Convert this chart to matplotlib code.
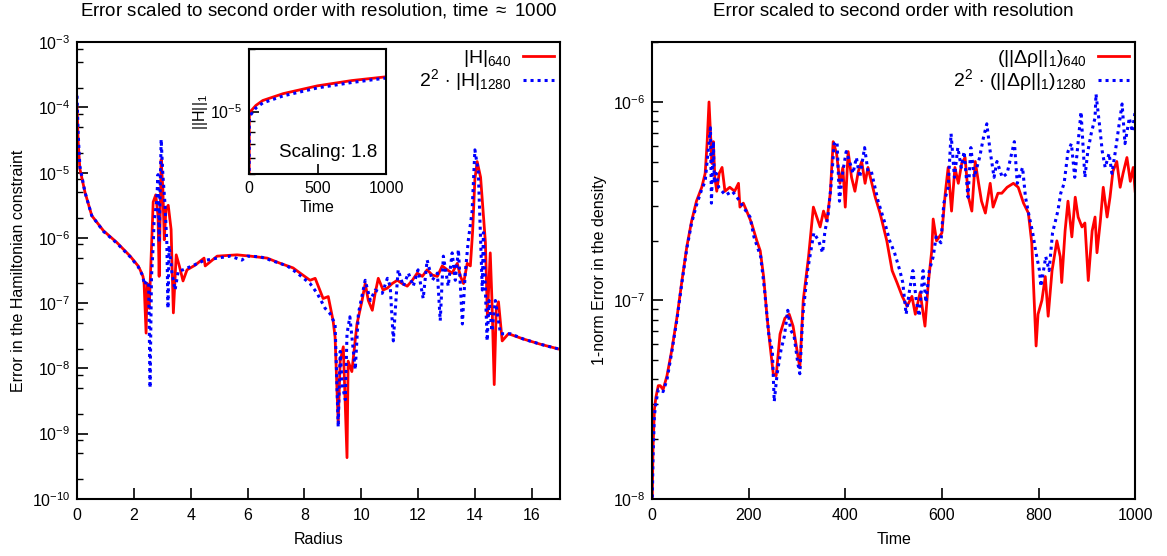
import numpy as np
import matplotlib
matplotlib.use("Agg")
import matplotlib.pyplot as plt
from matplotlib.ticker import LogLocator, NullFormatter, FixedLocator

plt.rcParams['font.family'] = ['Liberation Sans', 'DejaVu Sans']
plt.rcParams['mathtext.fontset'] = 'custom'
plt.rcParams['mathtext.rm'] = 'Liberation Sans'
plt.rcParams['mathtext.it'] = 'Liberation Sans'
plt.rcParams['mathtext.bf'] = 'Liberation Sans:bold'

# ---- left panel: Hamiltonian constraint vs radius (log10 of error) ----
r_640 = [0.0, 0.04, 0.1, 0.28, 0.52, 0.93, 1.4, 1.87, 2.15, 2.22, 2.32, 2.36, 2.43, 2.47, 2.54,
         2.64, 2.68, 2.77, 2.85, 2.89, 2.96, 3.02, 3.07, 3.13, 3.21, 3.31, 3.39, 3.49, 3.6,
         3.73, 3.87, 4.15, 4.47, 4.51, 4.93, 5.63, 6.1, 6.69, 7.15, 7.6, 7.85, 8.2, 8.38,
         8.66, 8.84, 9.01, 9.08, 9.19, 9.26, 9.37, 9.5, 9.54, 9.67, 9.85, 10.03, 10.14,
         10.25, 10.39, 10.49, 10.6, 10.77, 10.92, 11.09, 11.27, 11.44, 11.62, 11.8, 11.97,
         12.15, 12.32, 12.5, 12.68, 12.85, 13.03, 13.2, 13.38, 13.49, 13.6, 13.73, 13.84,
         13.92, 14.0, 14.08, 14.2, 14.37, 14.44, 14.54, 14.6, 14.68, 14.75, 14.83, 14.96,
         15.18, 15.7, 16.3, 17.0]
H_640 = [-4.0, -4.52, -4.94, -5.3, -5.66, -5.89, -6.07, -6.28, -6.43, -6.49, -6.59, -6.70,
         -7.46, -6.70, -7.08, -5.92, -5.45, -5.34, -5.66, -6.59, -4.80, -5.25, -6.03, -5.56,
         -5.50, -5.87, -7.15, -6.26, -6.43, -6.66, -6.49, -6.42, -6.31, -6.43, -6.28, -6.26,
         -6.28, -6.31, -6.39, -6.46, -6.54, -6.65, -6.62, -6.93, -6.90, -7.27, -7.52, -8.84,
         -7.89, -7.67, -9.37, -7.89, -8.05, -7.32, -6.96, -6.70, -6.96, -7.11, -6.85, -6.62,
         -6.80, -6.77, -6.70, -6.65, -6.70, -6.74, -6.65, -6.54, -6.59, -6.49, -6.57, -6.59,
         -6.43, -6.49, -6.54, -6.39, -6.59, -6.70, -6.39, -6.43, -5.90, -5.10, -4.83, -5.07,
         -6.07, -7.21, -6.23, -6.96, -8.25, -7.11, -6.98, -7.58, -7.47, -7.55, -7.63, -7.71]

r_1280 = [0.0, 0.04, 0.1, 0.28, 0.52, 0.93, 1.4, 1.87, 2.15, 2.3, 2.38, 2.45, 2.52, 2.57,
          2.62, 2.68, 2.71, 2.8, 2.85, 2.89, 2.96, 3.02, 3.09, 3.16, 3.2, 3.24, 3.34, 3.45,
          3.56, 3.73, 4.1, 4.45, 4.93, 5.39, 5.8, 6.0, 6.45, 6.8, 7.4, 7.75, 8.2, 8.45, 8.73,
          8.9, 9.08, 9.19, 9.26, 9.33, 9.44, 9.5, 9.6, 9.79, 9.9, 10.14, 10.32, 10.49, 10.74,
          10.92, 11.02, 11.13, 11.23, 11.3, 11.48, 11.66, 11.83, 12.0, 12.18, 12.32, 12.5,
          12.68, 12.78, 12.89, 13.06, 13.2, 13.31, 13.42, 13.56, 13.66, 13.77, 13.9, 14.0,
          14.12, 14.26, 14.3, 14.43, 14.5, 14.6, 14.72, 14.9, 15.0, 15.25, 15.7, 16.3, 17.0]
H_1280 = [-3.82, -4.4, -4.9, -5.3, -5.66, -5.90, -6.08, -6.29, -6.44, -6.57, -6.72, -6.66,
          -6.70, -8.30, -6.60, -6.12, -5.76, -5.45, -5.03, -6.07, -4.49, -5.03, -5.45, -6.07,
          -7.08, -6.12, -6.54, -6.80, -6.51, -6.49, -6.42, -6.35, -6.31, -6.28, -6.34, -6.28,
          -6.29, -6.34, -6.43, -6.54, -6.70, -6.85, -7.08, -7.16, -7.32, -8.90, -7.74, -8.25,
          -8.48, -7.47, -7.21, -8.02, -7.16, -6.65, -6.96, -6.80, -6.85, -6.62, -6.74, -7.58,
          -6.90, -6.49, -6.74, -6.54, -6.74, -6.49, -6.93, -6.34, -6.65, -6.54, -7.27, -6.28,
          -6.74, -6.23, -6.65, -6.18, -7.32, -6.54, -6.03, -5.60, -4.65, -4.99, -6.80, -5.92,
          -7.58, -6.96, -7.43, -6.96, -7.47, -7.47, -7.47, -7.55, -7.63, -7.71]

# ---- inset: ||H||_1 vs time ----
t_inset = [0, 2, 10, 50, 100, 250, 500, 750, 1000]
Hnorm_640 = [3e-6, 9.5e-6, 1.0e-5, 1.07e-5, 1.13e-5, 1.22e-5, 1.33e-5, 1.41e-5, 1.47e-5]
Hnorm_1280 = [3e-6, 9.2e-6, 9.6e-6, 1.04e-5, 1.10e-5, 1.19e-5, 1.30e-5, 1.38e-5, 1.45e-5]

# ---- right panel: 1-norm density error vs time (log10) ----
t_640 = [0, 2, 5, 8, 13, 17, 23, 31, 41, 52, 62, 72, 82, 92, 103, 110, 114, 118, 121, 124,
         127, 130, 134, 139, 145, 151, 161, 171, 179, 182, 189, 196, 206, 217, 224, 231, 238,
         244, 251, 257, 265, 275, 284, 292, 300, 306, 313, 324, 334, 341, 348, 355, 362, 369,
         375, 382, 389, 395, 400, 406, 413, 420, 427, 434, 441, 447, 455, 462, 472, 486, 497,
         507, 518, 528, 538, 545, 555, 565, 572, 579, 582, 589, 600, 607, 613, 620, 627, 634,
         641, 648, 655, 662, 669, 676, 682, 690, 700, 706, 716, 724, 735, 748, 758, 769, 779,
         786, 791, 795, 799, 807, 814, 820, 828, 838, 845, 848, 855, 861, 869, 876, 882, 890,
         896, 903, 911, 917, 921, 928, 934, 942, 948, 954, 962, 969, 975, 983, 990, 996, 1000]
rho_640 = [-8.1, -7.75, -7.55, -7.49, -7.43, -7.43, -7.45, -7.38, -7.25, -7.08, -6.90, -6.73,
           -6.60, -6.50, -6.43, -6.36, -6.21, -6.00, -6.15, -6.31, -6.20, -6.38, -6.45, -6.36,
           -6.33, -6.45, -6.43, -6.45, -6.41, -6.53, -6.51, -6.55, -6.61, -6.70, -6.75, -6.88,
           -7.08, -7.22, -7.37, -7.38, -7.17, -7.09, -7.07, -7.13, -7.25, -7.34, -7.00, -6.78,
           -6.53, -6.58, -6.63, -6.55, -6.60, -6.46, -6.20, -6.26, -6.41, -6.33, -6.53, -6.25,
           -6.38, -6.45, -6.35, -6.30, -6.41, -6.33, -6.41, -6.48, -6.56, -6.70, -6.85, -6.91,
           -6.98, -7.03, -6.98, -7.07, -6.96, -7.13, -6.91, -6.75, -6.59, -6.70, -6.66, -6.46,
           -6.33, -6.55, -6.33, -6.41, -6.31, -6.28, -6.48, -6.55, -6.30, -6.41, -6.50, -6.56,
           -6.41, -6.53, -6.46, -6.46, -6.43, -6.41, -6.43, -6.51, -6.56, -6.71, -7.00, -7.23,
           -7.07, -7.00, -6.88, -7.08, -6.85, -6.70, -6.78, -6.91, -6.65, -6.50, -6.68, -6.48,
           -6.58, -6.63, -6.61, -6.90, -6.65, -6.58, -6.76, -6.60, -6.43, -6.58, -6.48, -6.35,
           -6.30, -6.43, -6.36, -6.28, -6.40, -6.33, -6.45]

t_1280 = [0, 2, 5, 8, 13, 17, 23, 31, 41, 52, 62, 72, 82, 92, 103, 110, 114, 118, 121, 123,
          127, 129, 133, 138, 152, 166, 176, 189, 203, 211, 225, 233, 242, 249, 253, 259, 267,
          274, 281, 287, 294, 302, 306, 312, 322, 335, 345, 353, 358, 364, 371, 377, 383, 388,
          395, 402, 409, 416, 423, 430, 440, 447, 454, 468, 482, 492, 502, 513, 519, 526, 533,
          540, 547, 553, 561, 567, 574, 582, 588, 598, 604, 613, 619, 626, 633, 640, 646, 654,
          660, 667, 678, 686, 693, 700, 708, 714, 725, 735, 750, 756, 767, 773, 781, 788, 794,
          802, 805, 815, 822, 829, 840, 846, 853, 861, 868, 875, 881, 888, 896, 902, 909, 917,
          919, 926, 932, 938, 946, 952, 959, 967, 973, 979, 988, 994, 1000]
rho_1280 = [-8.1, -7.8, -7.58, -7.52, -7.45, -7.45, -7.46, -7.40, -7.26, -7.09, -6.91, -6.74,
            -6.61, -6.52, -6.44, -6.40, -6.30, -6.20, -6.13, -6.51, -6.20, -6.41, -6.36, -6.43,
            -6.47, -6.45, -6.48, -6.53, -6.58, -6.68, -6.78, -6.95, -7.18, -7.25, -7.51, -7.37,
            -7.25, -7.18, -7.05, -7.15, -7.18, -7.32, -7.37, -7.08, -6.85, -6.66, -6.70, -6.76,
            -6.65, -6.58, -6.41, -6.21, -6.20, -6.50, -6.35, -6.25, -6.30, -6.36, -6.28, -6.38,
            -6.23, -6.35, -6.35, -6.50, -6.61, -6.70, -6.76, -6.85, -6.91, -7.07, -6.95, -6.85,
            -7.00, -7.08, -6.85, -7.01, -6.85, -6.78, -6.68, -6.71, -6.51, -6.43, -6.16, -6.38,
            -6.23, -6.33, -6.25, -6.48, -6.23, -6.38, -6.28, -6.18, -6.11, -6.25, -6.38, -6.30,
            -6.38, -6.36, -6.20, -6.41, -6.33, -6.48, -6.58, -6.66, -6.75, -6.85, -6.93, -6.78,
            -6.85, -6.66, -6.55, -6.46, -6.41, -6.25, -6.21, -6.38, -6.23, -6.05, -6.38, -6.25,
            -6.16, -6.08, -5.96, -6.11, -6.25, -6.33, -6.26, -6.36, -6.25, -6.11, -6.01, -6.21,
            -6.08, -6.15, -6.05]

RED = '#ff0000'
BLUE = '#0000ff'
DOTS = (0, (1.0, 1.3))
TICK_FS = 11.5
LABEL_FS = 11.5
TITLE_FS = 13.5
LEG_FS = 14


def style_axis(ax, subs, fs=TICK_FS):
    ax.tick_params(which='both', direction='in', top=False, right=False, labelsize=fs)
    ax.tick_params(which='major', length=8, width=1.2)
    ax.tick_params(which='minor', length=4, width=1.0)
    ax.tick_params(axis='x', pad=7)
    ax.tick_params(axis='y', pad=5)
    ax.yaxis.set_minor_locator(LogLocator(base=10, subs=subs, numticks=30))
    ax.yaxis.set_minor_formatter(NullFormatter())
    for s in ax.spines.values():
        s.set_linewidth(1.5)


def decade_ticks(ax, lo, hi):
    ticks = [10.0 ** e for e in range(lo, hi + 1)]
    ax.yaxis.set_major_locator(FixedLocator(ticks))
    ax.set_yticklabels([r'$10^{%d}$' % e for e in range(lo, hi + 1)])


fig = plt.figure(figsize=(11.67, 5.56), dpi=100)

# left
ax1 = fig.add_axes([0.066, 0.103, 0.414, 0.821])
ax1.plot(r_640, 10 ** np.array(H_640), color=RED, lw=2.0, label=r'$|\mathrm{H}|_{640}$')
ax1.plot(r_1280, 10 ** np.array(H_1280), color=BLUE, lw=2.2, ls=DOTS,
         label=r'$2^2\,\cdot\,|\mathrm{H}|_{1280}$')
ax1.set_yscale('log')
ax1.set_xlim(0, 17)
ax1.set_ylim(1e-10, 1e-3)
ax1.set_xticks(range(0, 17, 2))
style_axis(ax1, [2, 5, 8])
decade_ticks(ax1, -10, -3)
ax1.set_xlabel('Radius', fontsize=LABEL_FS, labelpad=6)
ax1.set_ylabel('Error in the Hamiltonian constraint', fontsize=LABEL_FS, labelpad=4)
ax1.set_title(r'Error scaled to second order with resolution, time $\approx$ 1000',
              fontsize=TITLE_FS, pad=19)
ax1.legend(loc='upper right', frameon=False, markerfirst=False, fontsize=LEG_FS,
           handlelength=1.6, handletextpad=0.6, borderaxespad=0.2, borderpad=0.1,
           labelspacing=-0.08)

# inset
axi = fig.add_axes([0.2134, 0.687, 0.1174, 0.2248])
axi.plot(t_inset, Hnorm_640, color=RED, lw=2.0)
axi.plot(t_inset, Hnorm_1280, color=BLUE, lw=2.2, ls=DOTS)
axi.set_yscale('log')
axi.set_xlim(0, 1000)
axi.set_ylim(5e-6, 2e-5)
axi.set_xticks([0, 500, 1000])
style_axis(axi, np.arange(2, 10))
axi.yaxis.set_major_locator(FixedLocator([1e-5]))
axi.set_yticklabels([r'$10^{-5}$'])
axi.tick_params(which='major', length=7)
axi.tick_params(axis='x', pad=5)
axi.set_xlabel('Time', fontsize=LABEL_FS, labelpad=3)
axi.set_ylabel(r'$||\mathrm{H}||_1$', fontsize=LABEL_FS, labelpad=0)
axi.text(0.58, 0.17, 'Scaling: 1.8', transform=axi.transAxes, ha='center', va='center',
         fontsize=13.5)

# right
ax2 = fig.add_axes([0.5587, 0.103, 0.414, 0.821])
ax2.plot(t_640, 10 ** np.array(rho_640), color=RED, lw=2.0,
         label=r'$(||\Delta\rho||_1)_{640}$')
ax2.plot(t_1280, 10 ** np.array(rho_1280), color=BLUE, lw=2.2, ls=DOTS,
         label=r'$2^2\,\cdot\,(||\Delta\rho||_1)_{1280}$')
ax2.set_yscale('log')
ax2.set_xlim(0, 1000)
ax2.set_ylim(1e-8, 2e-6)
ax2.set_xticks(range(0, 1001, 200))
style_axis(ax2, np.arange(2, 10))
decade_ticks(ax2, -8, -6)
ax2.set_xlabel('Time', fontsize=LABEL_FS, labelpad=6)
ax2.set_ylabel('1-norm Error in the density', fontsize=LABEL_FS, labelpad=4)
ax2.set_title('Error scaled to second order with resolution', fontsize=TITLE_FS, pad=19)
ax2.legend(loc='upper right', frameon=False, markerfirst=False, fontsize=LEG_FS,
           handlelength=1.6, handletextpad=0.6, borderaxespad=0.2, borderpad=0.1,
           labelspacing=-0.08)

fig.savefig('out.png', dpi=100)
